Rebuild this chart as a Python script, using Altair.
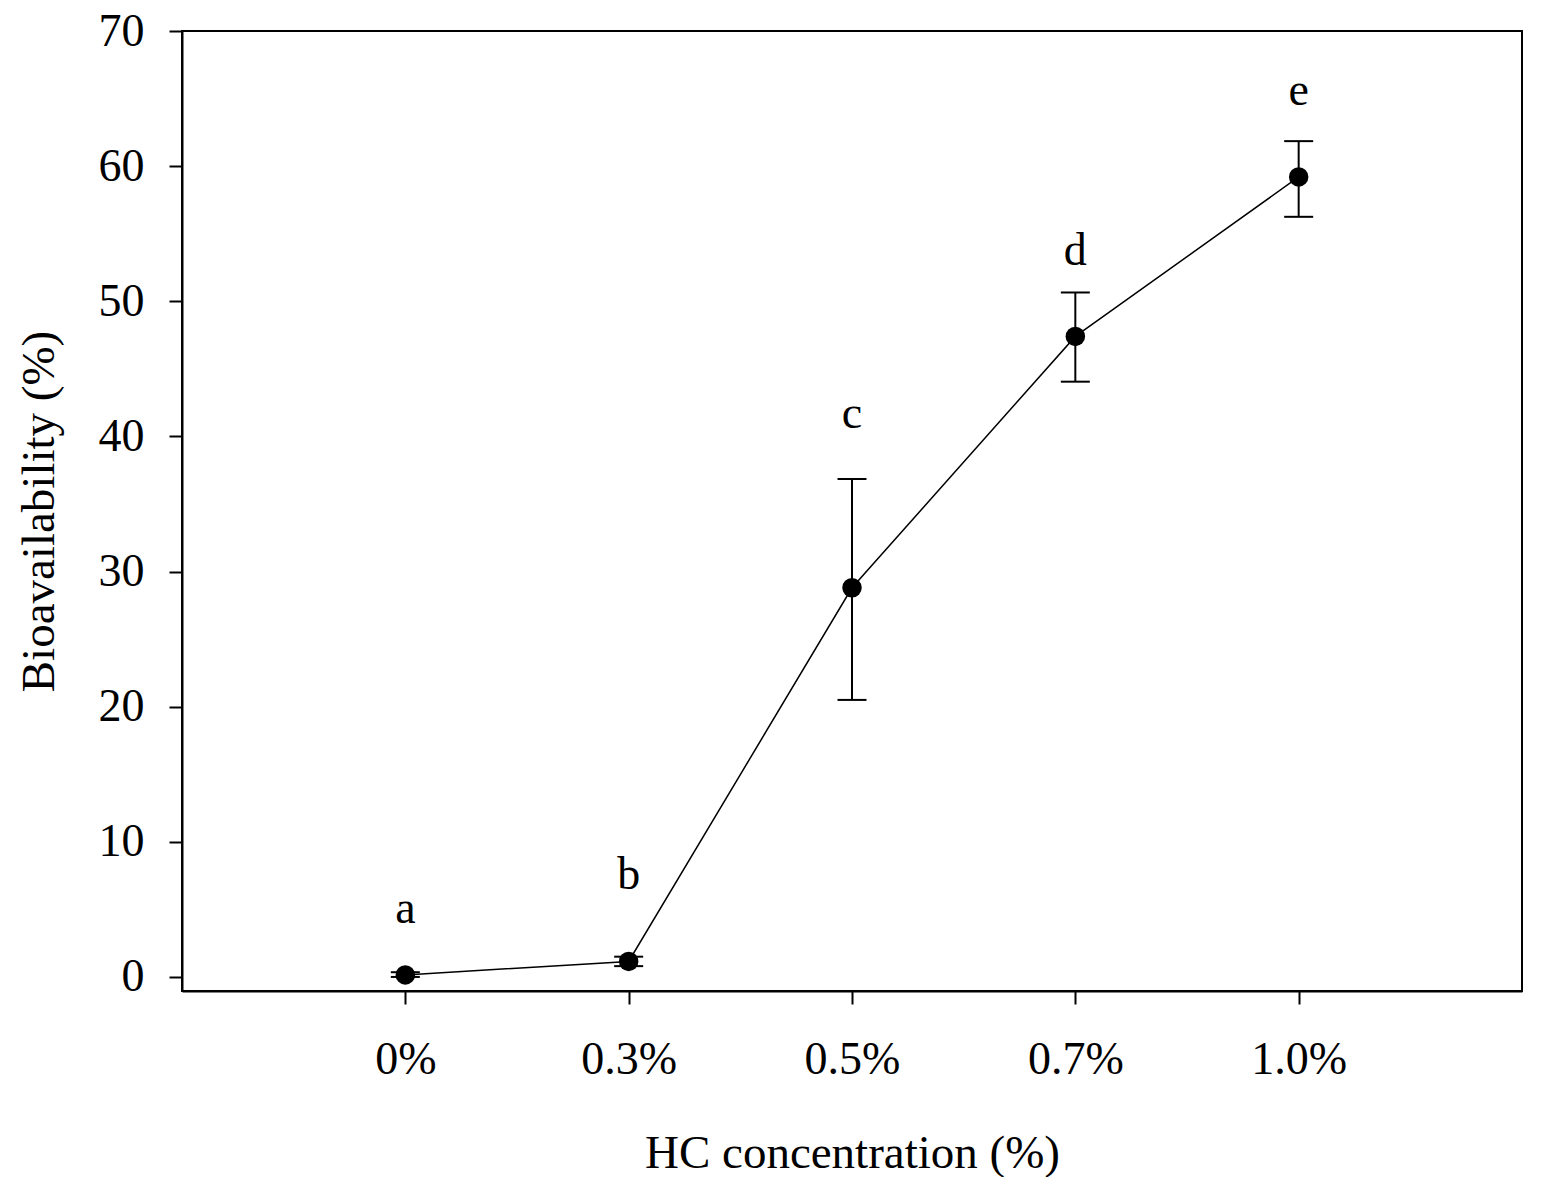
import altair as alt
import pandas as pd

categories = ["0%", "0.3%", "0.5%", "0.7%", "1.0%"]
means = [0.15, 1.15, 28.8, 47.4, 59.2]
upper = [0.35, 1.5, 36.85, 50.65, 61.85]
lower = [0.0, 0.8, 20.5, 44.05, 56.25]
letters = ["a", "b", "c", "d", "e"]
letter_y = [4.0, 6.5, 40.6, 52.7, 64.5]
y_ticks = [0, 10, 20, 30, 40, 50, 60, 70]

df = pd.DataFrame({
    "conc": categories,
    "mean": means,
    "lo": lower,
    "hi": upper,
    "letter": letters,
    "ly": letter_y,
})

FONT = "Liberation Serif"

x = alt.X(
    "conc:N",
    scale=alt.Scale(type="point", domain=categories, padding=1),
    axis=alt.Axis(
        title="HC concentration (%)",
        labelAngle=0,
        tickSize=13,
        tickWidth=2,
        labelPadding=69,
        labelBaseline="alphabetic",
        labelFontSize=46,
        titleFontSize=47,
        titleY=176,
        titleBaseline="alphabetic",
        grid=False,
    ),
)
y_scale = alt.Scale(domain=[-1.04, 70], nice=False, zero=False)
y = alt.Y(
    "mean:Q",
    scale=y_scale,
    axis=alt.Axis(
        title="Bioavailability (%)",
        values=y_ticks,
        tickSize=13,
        tickWidth=2,
        labelPadding=25,
        labelFontSize=46,
        titleFontSize=47,
        titleX=-129,
        titleBaseline="alphabetic",
        grid=False,
    ),
)

base = alt.Chart(df)

line = base.mark_line(color="black", strokeWidth=1.5).encode(x=x, y=y)
bars = base.mark_rule(color="black", strokeWidth=2).encode(
    x=x, y=alt.Y("lo:Q", scale=y_scale), y2="hi:Q"
)
cap_hi = base.mark_tick(color="black", thickness=2, size=29, opacity=1).encode(
    x=x, y=alt.Y("hi:Q", scale=y_scale)
)
cap_lo = base.mark_tick(color="black", thickness=2, size=29, opacity=1).encode(
    x=x, y=alt.Y("lo:Q", scale=y_scale)
)
points = base.mark_point(filled=True, color="black", size=380, opacity=1).encode(x=x, y=y)
labels = base.mark_text(font=FONT, fontSize=46, color="black", baseline="alphabetic").encode(
    x=x, y=alt.Y("ly:Q", scale=y_scale), text="letter:N"
)

chart = (
    alt.layer(line, bars, cap_hi, cap_lo, points, labels)
    .properties(
        width=1340,
        height=960,
        background="white",
        autosize=alt.AutoSizeParams(type="none"),
        padding={"left": 174, "top": 23, "right": 23, "bottom": 186},
    )
    .configure_view(stroke="black", strokeWidth=2)
    .configure_axis(
        domainColor="black",
        domainWidth=2,
        tickColor="black",
        labelColor="black",
        titleColor="black",
        labelFont=FONT,
        titleFont=FONT,
        titleFontWeight="normal",
    )
)

chart.save("out.html", embed_options={"renderer": "svg", "actions": False})
